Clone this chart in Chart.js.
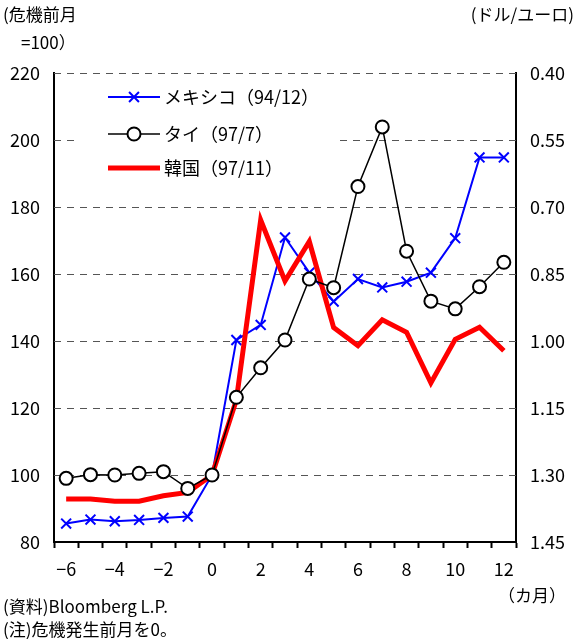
<!DOCTYPE html>
<html>
<head>
<meta charset="utf-8">
<script src="https://cdn.jsdelivr.net/npm/chart.js@4"></script>
<style>
  body { margin: 0; background: #fff; }
  canvas { display: block; }
</style>
</head>
<body>
<canvas id="chart" width="577" height="639"></canvas>
<script>
// months relative to the month before the crisis
const months = ["−6", "−5", "−4", "−3", "−2", "−1", "0", "1", "2", "3", "4", "5", "6", "7", "8", "9", "10", "11", "12"];
const mexico = [85.5, 86.7, 86.2, 86.6, 87.2, 87.6, 100, 140.3, 144.8, 170.9, 160.4, 151.8, 158.5, 156.0, 157.7, 160.4, 170.7, 194.8, 194.8];
const thai = [99.0, 100.1, 100.0, 100.5, 101.0, 96.0, 100, 123.2, 132.0, 140.3, 158.5, 155.9, 186.1, 203.9, 166.8, 151.9, 149.6, 156.2, 163.5];
const korea = [92.8, 92.8, 92.2, 92.2, 93.8, 94.8, 100, 122.4, 176.1, 157.9, 169.7, 144.0, 138.6, 146.3, 142.6, 127.5, 140.5, 144.1, 137.1];
const leftTicks = [80, 100, 120, 140, 160, 180, 200, 220];
const rightTicks = [0.40, 0.55, 0.70, 0.85, 1.00, 1.15, 1.30, 1.45];

const FONT = '"Noto Sans CJK JP", "Liberation Sans", sans-serif';

// dashed horizontal gridlines at the left-axis ticks
const dashedGrid = {
  id: "dashedGrid",
  beforeDatasetsDraw(chart) {
    const c = chart.ctx;
    const area = chart.chartArea;
    const y = chart.scales.y;
    c.save();
    c.strokeStyle = "#555";
    c.lineWidth = 1;
    c.setLineDash([7, 6]);
    leftTicks.forEach((v) => {
      if (v === y.min) return;
      const py = Math.round(y.getPixelForValue(v)) + 0.5;
      c.beginPath();
      c.moveTo(area.left, py);
      c.lineTo(area.right, py);
      c.stroke();
    });
    c.restore();
  },
};

// legend drawn inside the plot, over the gridlines
const legendBox = {
  id: "legendBox",
  afterDraw(chart) {
    const c = chart.ctx;
    c.save();
    c.fillStyle = "#fff";
    c.fillRect(80, 80, 255, 108);
    const rows = [97, 134, 168];
    chart.data.datasets.forEach((ds, i) => {
      const y = rows[i];
      c.strokeStyle = ds.borderColor;
      c.lineWidth = ds.borderWidth;
      c.beginPath();
      c.moveTo(108, y);
      c.lineTo(160, y);
      c.stroke();
      if (ds.pointRadius > 0) {
        c.fillStyle = ds.pointBackgroundColor;
        c.strokeStyle = ds.pointBorderColor;
        c.lineWidth = ds.pointBorderWidth;
        Chart.helpers.drawPoint(c, {
          pointStyle: ds.pointStyle,
          radius: ds.pointRadius,
          borderWidth: ds.pointBorderWidth,
        }, 134, y);
      }
      c.fillStyle = "#000";
      c.font = "18px " + FONT;
      c.textBaseline = "middle";
      c.fillText(ds.label, 164, y);
    });

    // axis captions and notes
    c.fillStyle = "#000";
    c.font = "17px " + FONT;
    c.textBaseline = "middle";
    c.textAlign = "left";
    c.fillText("(危機前月", 3, 15);
    c.fillText("=100）", 21, 43);
    c.fillText("(資料)Bloomberg L.P.", 3, 607);
    c.fillText("(注)危機発生前月を0。", 3, 630);
    c.fillText("（カ月）", 498, 596);
    c.textAlign = "right";
    c.fillText("(ドル/ユーロ)", 574, 15);
    c.restore();
  },
};

new Chart(document.getElementById("chart"), {
  type: "line",
  data: {
    labels: months,
    datasets: [
      {
        label: "メキシコ（94/12）",
        data: mexico,
        borderColor: "#0000ff",
        borderWidth: 2,
        pointStyle: "crossRot",
        pointRadius: 7,
        pointBorderWidth: 2,
        pointBorderColor: "#0000ff",
        pointBackgroundColor: "#0000ff",
        tension: 0,
        yAxisID: "y",
        order: 2,
      },
      {
        label: "タイ（97/7）",
        data: thai,
        borderColor: "#000",
        borderWidth: 1.5,
        pointStyle: "circle",
        pointRadius: 6.5,
        pointBorderWidth: 2,
        pointBorderColor: "#000",
        pointBackgroundColor: "#fff",
        tension: 0,
        yAxisID: "y",
        order: 0,
      },
      {
        label: "韓国（97/11）",
        data: korea,
        borderColor: "#ff0000",
        borderWidth: 5,
        pointRadius: 0,
        tension: 0,
        yAxisID: "y",
        order: 1,
      },
    ],
  },
  options: {
    responsive: false,
    animation: false,
    layout: { padding: { top: 73, left: 0, right: 0, bottom: 0 } },
    plugins: { legend: { display: false }, tooltip: { enabled: false } },
    scales: {
      x: {
        type: "category",
        offset: true,
        grid: {
          offset: true,
          drawOnChartArea: false,
          drawTicks: true,
          tickLength: 6,
          tickWidth: 2,
          color: "#000",
        },
        border: { color: "#000", width: 2 },
        ticks: {
          autoSkip: false,
          maxRotation: 0,
          padding: 10,
          color: "#000",
          font: { family: FONT, size: 18 },
          callback: (v, i) => (i % 2 === 0 ? months[i] : ""),
        },
        afterFit: (s) => { s.height = 97; },
      },
      y: {
        position: "left",
        min: 80,
        max: 220,
        afterBuildTicks: (s) => { s.ticks = leftTicks.map((v) => ({ value: v })); },
        grid: { drawOnChartArea: false, drawTicks: false },
        border: { color: "#000", width: 2 },
        ticks: {
          padding: 14,
          color: "#000",
          font: { family: FONT, size: 18 },
        },
        afterFit: (s) => { s.width = 54; },
      },
      y2: {
        position: "right",
        reverse: true,
        min: 0.40,
        max: 1.45,
        afterBuildTicks: (s) => { s.ticks = rightTicks.map((v) => ({ value: v })); },
        grid: { drawOnChartArea: false, drawTicks: false },
        border: { color: "#000", width: 2 },
        ticks: {
          padding: 14,
          color: "#000",
          font: { family: FONT, size: 18 },
          callback: (v) => v.toFixed(2),
        },
        afterFit: (s) => { s.width = 61; },
      },
    },
  },
  plugins: [dashedGrid, legendBox],
});
</script>
</body>
</html>
